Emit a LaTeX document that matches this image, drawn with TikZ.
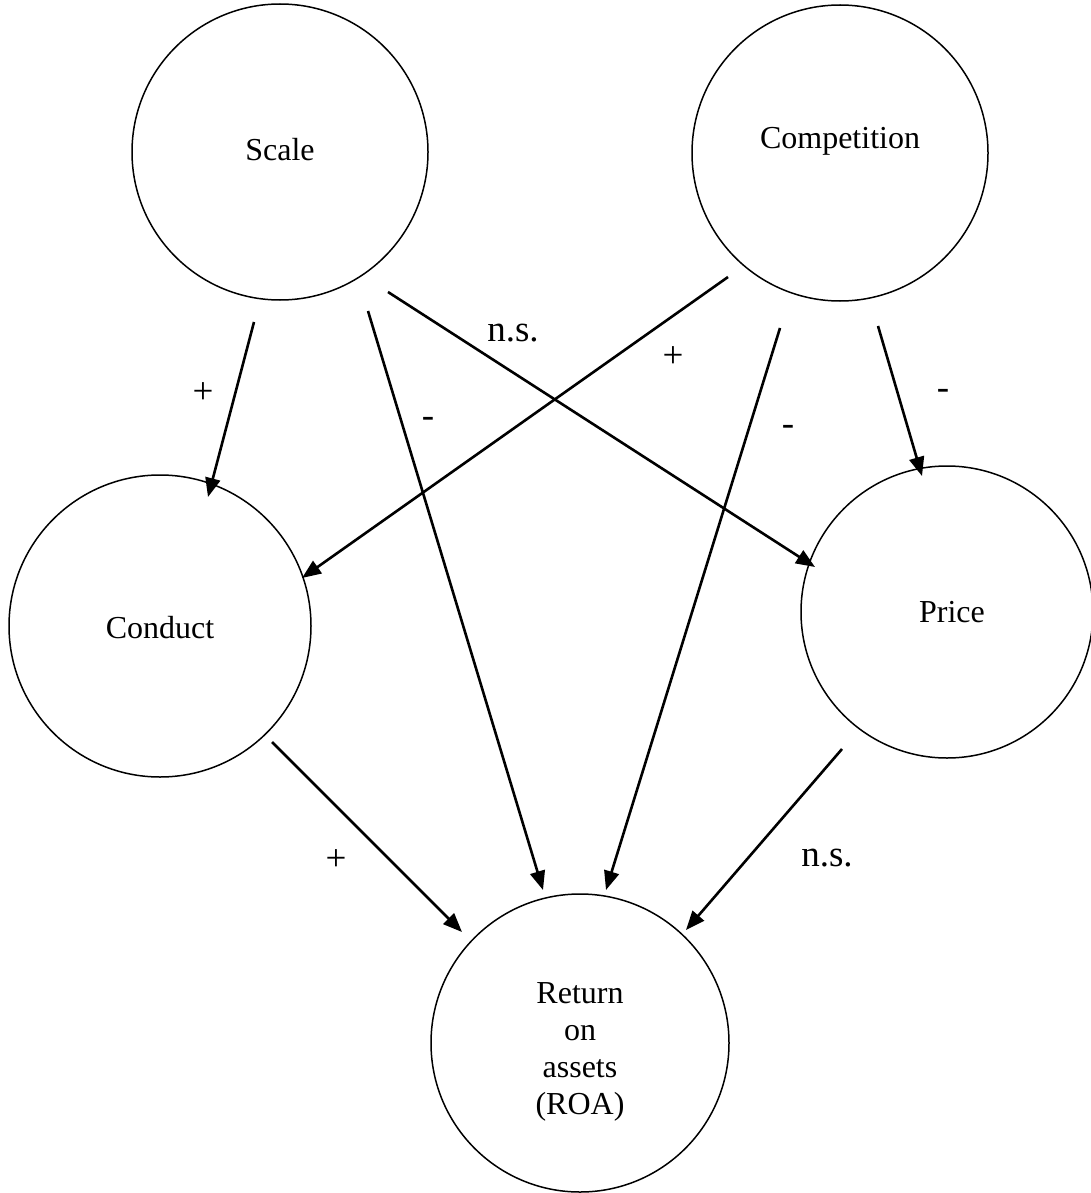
\documentclass[tikz,border=0pt]{standalone}
\usepackage{fontspec}
\setmainfont{Liberation Serif}
\usetikzlibrary{arrows.meta}
\begin{document}
\begin{tikzpicture}[x=1pt,y=-1pt,
  circ/.style={circle,draw,line width=1.5pt,inner sep=0pt},
  txt/.style={font=\fontsize{32}{37}\selectfont,inner sep=0pt,align=center},
  lbl/.style={font=\fontsize{37}{40}\selectfont,inner sep=0pt},
  arr/.style={line width=2.6pt,-{Triangle[length=19pt,width=15pt]}}]
\useasboundingbox (0,0) rectangle (1091,1193);
% circles
\node[circ,minimum size=296pt] (scale) at (280,152) {};
\node[circ,minimum size=296pt] (comp) at (840,153) {};
\node[circ,minimum size=302pt] (cond) at (160,626) {};
\node[circ,minimum size=292pt] (price) at (947,612) {};
\node[circ,minimum size=298pt] (roa) at (580,1043) {};
% texts
\node[txt] (scalet) at (280,150) {Scale};
\node[txt] (compt) at (840,141) {Competition};
\node[txt] (condt) at (160,628) {Conduct};
\node[txt] (pricet) at (952,612) {Price};
\node[txt] (roat) at (580,1052) {Return\\on\\assets\\(ROA)};
% connector ends
\coordinate (a1) at (254,322); \coordinate (b1) at (208,497);
\coordinate (a2) at (368,311); \coordinate (b2) at (543,890);
\coordinate (a3) at (388,292); \coordinate (b3) at (815,567);
\coordinate (a4) at (728,277); \coordinate (b4) at (302,578);
\coordinate (a5) at (780,328); \coordinate (b5) at (606,890);
\coordinate (a6) at (878,326); \coordinate (b6) at (922,476);
\coordinate (a7) at (272,742); \coordinate (b7) at (462,932);
\coordinate (a8) at (842,749); \coordinate (b8) at (686,930);
\draw[arr] (a1) -- (b1);
\draw[arr] (a2) -- (b2);
\draw[arr] (a3) -- (b3);
\draw[arr] (a4) -- (b4);
\draw[arr] (a5) -- (b5);
\draw[arr] (a6) -- (b6);
\draw[arr] (a7) -- (b7);
\draw[arr] (a8) -- (b8);
% labels
\node[lbl] (l1) at (203,393) {+};
\node[lbl] (l2) at (428,422) {-};
\node[lbl] (l3) at (513,333) {n.s.};
\node[lbl] (l4) at (673,357) {+};
\node[lbl] (l5) at (788,430) {-};
\node[lbl] (l6) at (943,394) {-};
\node[lbl] (l7) at (336,860) {+};
\node[lbl] (l8) at (827,858) {n.s.};
\end{tikzpicture}
\end{document}
